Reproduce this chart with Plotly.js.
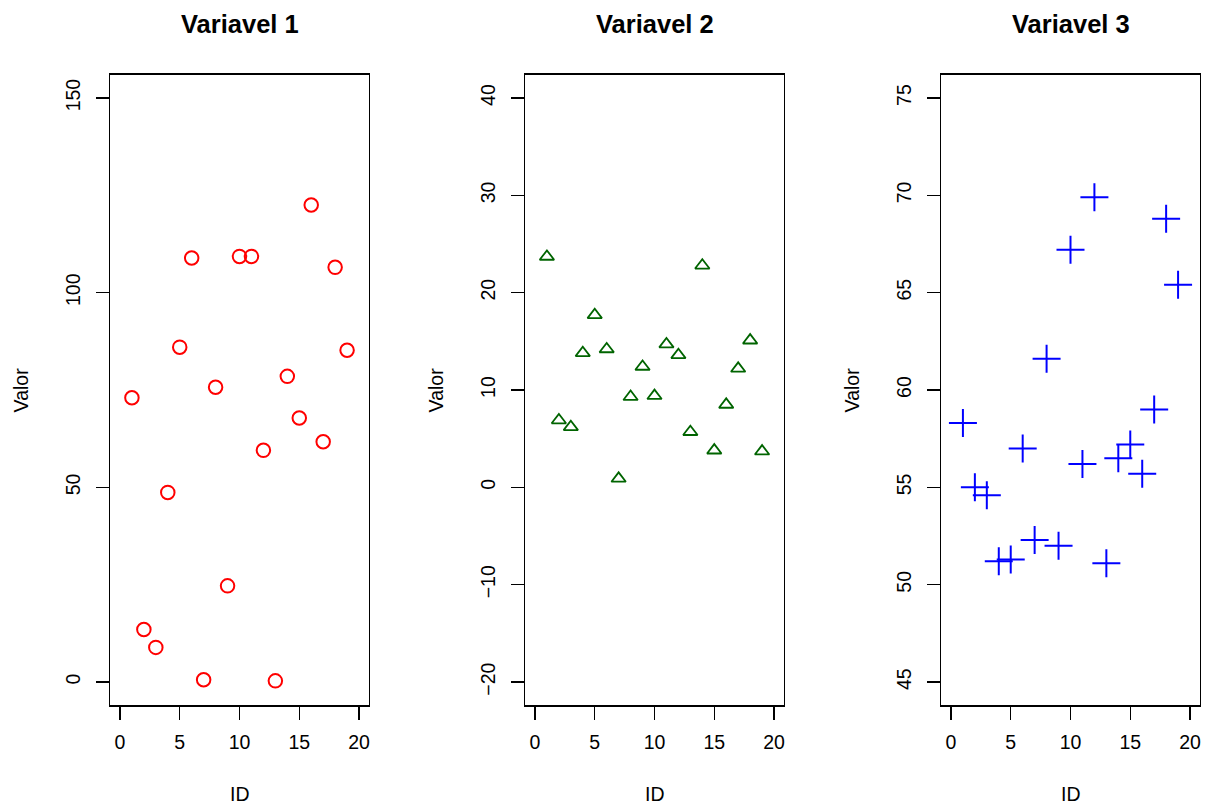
<!DOCTYPE html>
<html>
<head>
<meta charset="utf-8">
<script src="https://cdn.plot.ly/plotly-3.0.1.min.js"></script>
<style>
  html, body { margin: 0; padding: 0; background: #ffffff; }
  #chart { width: 1207px; height: 805px; }
</style>
</head>
<body>
<div id="chart"></div>
<script>
// ---- data ----
const ids = [1, 2, 3, 4, 5, 6, 7, 8, 9, 10, 11, 12, 13, 14, 15, 16, 17, 18, 19];
const variavel1 = [73.0, 13.5, 8.9, 48.7, 86.0, 108.9, 0.6, 75.7, 24.7, 109.3, 109.3, 59.5, 0.3, 78.5, 67.8, 122.5, 61.7, 106.5, 85.2];
const variavel2 = [23.7, 6.9, 6.2, 13.8, 17.7, 14.2, 0.9, 9.3, 12.4, 9.4, 14.7, 13.6, 5.7, 22.8, 3.8, 8.5, 12.2, 15.1, 3.7];
const variavel3 = [58.3, 55.0, 54.6, 51.2, 51.3, 57.0, 52.3, 61.6, 52.0, 67.2, 56.2, 69.9, 51.1, 56.5, 57.2, 55.7, 59.0, 68.8, 65.4];

const panelTitles = ["Variavel 1", "Variavel 2", "Variavel 3"];
const xLabel = "ID";
const yLabel = "Valor";
const xTicks = [0, 5, 10, 15, 20];
const y1Ticks = [0, 50, 100, 150];
const y2Ticks = [-20, -10, 0, 10, 20, 30, 40];
const y3Ticks = [45, 50, 55, 60, 65, 70, 75];

// ---- styling / layout ----
const W = 1207, H = 805;
const FONT = "Liberation Sans, Arial, Helvetica, sans-serif";
const TICKSIZE = 19.5;

const boxLeft = [110.4, 525.4, 941.4];
const boxW = 258.2;
const boxTop = 74.6, boxBottom = 705.4;

function xDomain(i) { return [boxLeft[i] / W, (boxLeft[i] + boxW) / W]; }
const yDomain = [(H - boxBottom) / H, (H - boxTop) / H];

function ext(lo, hi) { const d = (hi - lo) * 0.04; return [lo - d, hi + d]; }

function xAxis(i, anchor) {
  return {
    domain: xDomain(i), anchor: anchor, range: ext(0, 20),
    tickmode: "array", tickvals: xTicks, ticktext: xTicks.map(String),
    showgrid: false, zeroline: false,
    showline: true, mirror: true, linecolor: "#000", linewidth: 1.5,
    ticks: "outside", ticklen: 13, tickwidth: 1.5, tickcolor: "#000",
    tickfont: { family: FONT, size: TICKSIZE, color: "#000" },
    ticklabelstandoff: 6,
    fixedrange: true
  };
}
function yAxis(anchor, ticks) {
  return {
    domain: yDomain, anchor: anchor,
    range: ext(ticks[0], ticks[ticks.length - 1]),
    tickmode: "array", tickvals: ticks, ticktext: ticks.map(v => v < 0 ? "\u2212" + Math.abs(v) : String(v)),
    tickangle: -90,
    showgrid: false, zeroline: false,
    showline: true, mirror: true, linecolor: "#000", linewidth: 1.5,
    ticks: "outside", ticklen: 13, tickwidth: 1.5, tickcolor: "#000",
    tickfont: { family: FONT, size: TICKSIZE, color: "#000" },
    ticklabelstandoff: 8,
    fixedrange: true
  };
}

const traces = [
  {
    x: ids, y: variavel1, xaxis: "x", yaxis: "y", type: "scatter", mode: "markers",
    marker: { symbol: "circle-open", size: 13.5, color: "#FF0000", line: { width: 2, color: "#FF0000" } },
    hoverinfo: "x+y"
  },
  {
    x: ids, y: variavel2, xaxis: "x2", yaxis: "y2", type: "scatter", mode: "markers",
    marker: { symbol: "triangle-up-open", size: 12.5, color: "#006400", line: { width: 1.8, color: "#006400" } },
    hoverinfo: "x+y"
  },
  {
    x: ids, y: variavel3, xaxis: "x3", yaxis: "y3", type: "scatter", mode: "markers",
    marker: { symbol: "cross-thin-open", size: 20, color: "#0000FF", line: { width: 2, color: "#0000FF" } },
    hoverinfo: "x+y"
  }
];

const annotations = [];
for (let i = 0; i < 3; i++) {
  const cx = (boxLeft[i] + boxW / 2) / W;
  annotations.push({
    text: "<b>" + panelTitles[i] + "</b>", xref: "paper", yref: "paper",
    x: cx, y: 1 - 24 / H, xanchor: "center", yanchor: "middle", showarrow: false,
    font: { family: FONT, size: 25.5, color: "#000" }
  });
  annotations.push({
    text: xLabel, xref: "paper", yref: "paper",
    x: cx, y: (H - 793.5) / H, xanchor: "center", yanchor: "middle", showarrow: false,
    font: { family: FONT, size: TICKSIZE, color: "#000" }
  });
  annotations.push({
    text: yLabel, xref: "paper", yref: "paper", textangle: -90,
    x: (boxLeft[i] - 89) / W, y: (H - (boxTop + boxBottom) / 2) / H,
    xanchor: "center", yanchor: "middle", showarrow: false,
    font: { family: FONT, size: TICKSIZE, color: "#000" }
  });
}

const layout = {
  width: W, height: H,
  margin: { l: 0, r: 0, t: 0, b: 0, pad: 0 },
  paper_bgcolor: "#ffffff", plot_bgcolor: "#ffffff",
  showlegend: false,
  font: { family: FONT, size: TICKSIZE, color: "#000" },
  xaxis: xAxis(0, "y"), yaxis: yAxis("x", y1Ticks),
  xaxis2: xAxis(1, "y2"), yaxis2: yAxis("x2", y2Ticks),
  xaxis3: xAxis(2, "y3"), yaxis3: yAxis("x3", y3Ticks),
  annotations: annotations
};

Plotly.newPlot("chart", traces, layout, { staticPlot: true, displayModeBar: false });
</script>
</body>
</html>
